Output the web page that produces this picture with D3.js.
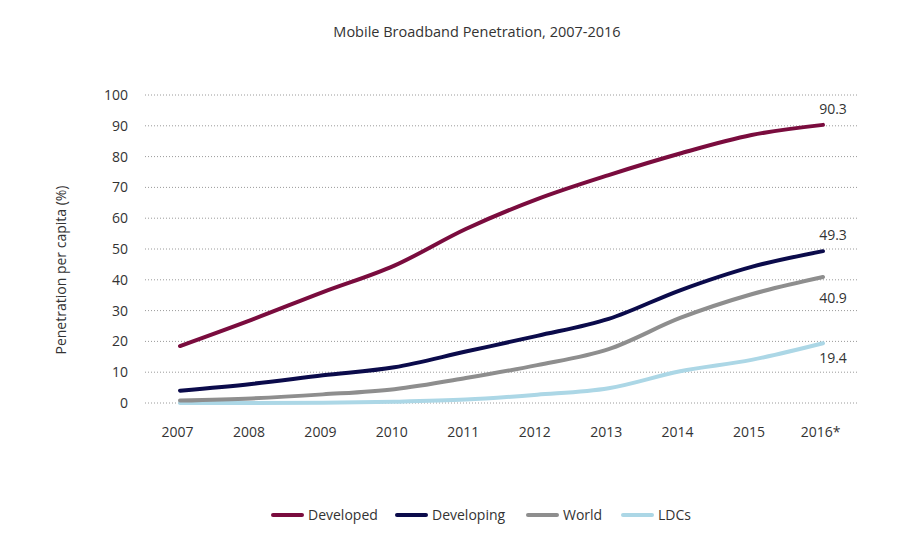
<!DOCTYPE html>
<html><head><meta charset="utf-8">
<script src="https://cdn.jsdelivr.net/npm/d3@7"></script>
<style>
body{margin:0;background:#fff;}
text{font-family:"Open Sans","Noto Sans",sans-serif;fill:#333;}
</style></head>
<body><div id="chart"></div>
<script>
const years = ["2007","2008","2009","2010","2011","2012","2013","2014","2015","2016*"];
const developed = [18.5,27.0,36.0,44.6,56.5,66.2,74.0,81.0,87.0,90.3];
const developing = [4.0,6.2,9.0,11.6,16.7,21.8,27.3,36.6,44.2,49.3];
const world = [0.8,1.5,2.8,4.5,8.1,12.3,17.5,27.6,35.3,40.9];
const ldcs = [0.0,0.0,0.1,0.4,1.1,2.7,4.8,10.3,14.0,19.4];
const seriesNames = ["Developed","Developing","World","LDCs"];
const seriesColors = ["#7a0c3e","#0b0b4b","#8e8e8e","#acd7e6"];
const yTicks = [0,10,20,30,40,50,60,70,80,90,100];
const title = "Mobile Broadband Penetration, 2007-2016";
const yTitle = "Penetration per capita (%)";

const W=902,H=552;
const svg=d3.select("#chart").append("svg").attr("width",W).attr("height",H);
const x=d3.scalePoint().domain(years).range([180,823]);
const y=d3.scaleLinear().domain([0,100]).range([403,95]);

svg.append("text").attr("x",477).attr("y",37).attr("text-anchor","middle")
  .style("font-size","14.5px").text(title);

// grid
svg.append("g").selectAll("line").data(yTicks).join("line")
  .attr("x1",145).attr("x2",857).attr("y1",d=>y(d)).attr("y2",d=>y(d))
  .attr("stroke","#9a9a9a").attr("stroke-width",1).attr("stroke-dasharray","1,2");

// y axis
const ya=svg.append("g").attr("transform","translate(128,0)")
  .call(d3.axisLeft(y).tickValues(yTicks).tickSize(0).tickPadding(0));
ya.select(".domain").remove();
ya.selectAll("text").style("font-size","14px").style("font-family","'Open Sans','Noto Sans',sans-serif").attr("fill","#333");

svg.append("text").attr("transform","translate(66,270) rotate(-90)")
  .attr("text-anchor","middle").style("font-size","14px").text(yTitle);

// x axis
const xa=svg.append("g").attr("transform","translate(-3,432)")
  .call(d3.axisBottom(x).tickSize(0).tickPadding(0));
xa.select(".domain").remove();
xa.selectAll("text").style("font-size","14px").style("font-family","'Open Sans','Noto Sans',sans-serif").attr("fill","#333").attr("dy","0.35em");

const all=[developed,developing,world,ldcs];
const line=d3.line().x((d,i)=>x(years[i])).y(d=>y(d)).curve(d3.curveMonotoneX);
[3,2,1,0].forEach(k=>{
  svg.append("path").datum(all[k]).attr("d",line).attr("fill","none")
    .attr("stroke",seriesColors[k]).attr("stroke-width",4).attr("stroke-linecap","round").attr("stroke-linejoin","round");
});

// end labels
const endOffsets=[-16,-16,21,15];
all.forEach((s,k)=>{
  const v=s[s.length-1];
  svg.append("text").attr("x",x(years[years.length-1])+10).attr("y",y(v)+endOffsets[k])
    .attr("text-anchor","middle").attr("dy","0.35em").style("font-size","14px").text(v.toFixed(1));
});

// legend
const legX=[273,397,528,623];
seriesNames.forEach((n,k)=>{
  const g=svg.append("g").attr("transform",`translate(${legX[k]},515)`);
  g.append("line").attr("x1",0).attr("x2",29).attr("stroke",seriesColors[k]).attr("stroke-width",4).attr("stroke-linecap","round");
  g.append("text").attr("x",35).attr("dy","0.35em").style("font-size","14px").text(n);
});
</script></body></html>
